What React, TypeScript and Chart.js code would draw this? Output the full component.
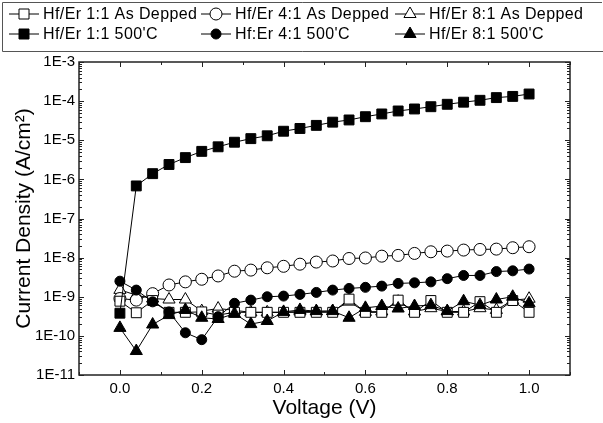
import React, { useEffect, useRef } from "react";
import { Chart, registerables } from "chart.js";

Chart.register(...registerables);

const voltages = [0, 0.04, 0.08, 0.12, 0.16, 0.2, 0.24, 0.28, 0.32, 0.36, 0.4, 0.44, 0.48, 0.52, 0.56, 0.6, 0.64, 0.68, 0.72, 0.76, 0.8, 0.84, 0.88, 0.92, 0.96, 1.0];

const hfEr11AsDepped = [7.7e-10, 3.9e-10, 8e-10, 4e-10, 4e-10, 4.1e-10, 3.4e-10, 4e-10, 4e-10, 4e-10, 4e-10, 4e-10, 4e-10, 4e-10, 8.7e-10, 4e-10, 4e-10, 8.2e-10, 4e-10, 8e-10, 4e-10, 4e-10, 7.5e-10, 4e-10, 8e-10, 4e-10];
const hfEr41AsDepped = [9e-10, 8.2e-10, 1.2e-9, 2.0e-9, 2.4e-9, 2.8e-9, 3.4e-9, 4.5e-9, 4.8e-9, 5.5e-9, 6.0e-9, 6.8e-9, 7.7e-9, 8.2e-9, 9.5e-9, 9.8e-9, 1.09e-8, 1.14e-8, 1.28e-8, 1.41e-8, 1.47e-8, 1.56e-8, 1.62e-8, 1.65e-8, 1.79e-8, 1.9e-8];
const hfEr81AsDepped = [1.5e-9, 1.1e-9, 9e-10, 8.5e-10, 8.5e-10, 4.3e-10, 5e-10, 4.5e-10, 4e-10, 4e-10, 4e-10, 4.2e-10, 4.2e-10, 4.3e-10, 7.5e-10, 4.1e-10, 4.2e-10, 7.5e-10, 4.2e-10, 5.1e-10, 4.2e-10, 4.2e-10, 5.1e-10, 4.6e-10, 8.2e-10, 8.9e-10];
const hfEr11Annealed = [3.8e-10, 6.8e-7, 1.4e-6, 2.4e-6, 3.6e-6, 5.2e-6, 6.8e-6, 8.9e-6, 1.1e-5, 1.3e-5, 1.7e-5, 2.0e-5, 2.4e-5, 2.9e-5, 3.3e-5, 4.0e-5, 4.7e-5, 5.6e-5, 6.3e-5, 7.2e-5, 8.3e-5, 9.4e-5, 1.05e-4, 1.23e-4, 1.32e-4, 1.52e-4];
const hfEr41Annealed = [2.5e-9, 1.48e-9, 7.4e-10, 4.1e-10, 1.2e-10, 8.0e-11, 3.1e-10, 6.8e-10, 8.2e-10, 1.0e-9, 1.04e-9, 1.15e-9, 1.29e-9, 1.48e-9, 1.63e-9, 1.74e-9, 1.87e-9, 2.19e-9, 2.27e-9, 2.4e-9, 2.9e-9, 3.5e-9, 3.5e-9, 4.4e-9, 4.6e-9, 5.1e-9];
const hfEr81Annealed = [1.6e-10, 4.1e-11, 1.95e-10, 3.4e-10, 4.6e-10, 2.9e-10, 2.7e-10, 3.7e-10, 2.0e-10, 2.4e-10, 4.1e-10, 4.6e-10, 4.3e-10, 4.3e-10, 2.9e-10, 5.2e-10, 5.8e-10, 5.0e-10, 5.8e-10, 6.1e-10, 4.3e-10, 7.7e-10, 6.1e-10, 8.5e-10, 1.0e-9, 6.8e-10];

const seriesLabels = [
  "Hf/Er 1:1 As Depped",
  "Hf/Er 4:1 As Depped",
  "Hf/Er 8:1 As Depped",
  "Hf/Er 1:1 500'C",
  "Hf:Er 4:1 500'C",
  "Hf/Er 8:1 500'C",
];

const xTickValues = [0, 0.2, 0.4, 0.6, 0.8, 1.0];
const yTickExponents = [-11, -10, -9, -8, -7, -6, -5, -4, -3];

const xTitle = "Voltage (V)";
const yTitle = "Current Density (A/cm²)";

const FONT = "'Liberation Sans', Arial, sans-serif";

type Shape = "rect" | "circle" | "triangle";

function drawMarker(ctx: CanvasRenderingContext2D, shape: Shape, cx: number, cy: number, filled: boolean) {
  ctx.beginPath();
  if (shape === "rect") {
    const h = 5;
    ctx.rect(cx - h, cy - h, 2 * h, 2 * h);
  } else if (shape === "circle") {
    ctx.arc(cx, cy, filled ? 5 : 6, 0, Math.PI * 2);
  } else {
    const r = 7;
    ctx.moveTo(cx, cy - r);
    ctx.lineTo(cx + r * Math.sin(Math.PI / 3), cy + r / 2);
    ctx.lineTo(cx - r * Math.sin(Math.PI / 3), cy + r / 2);
    ctx.closePath();
  }
  ctx.fillStyle = filled ? "#000" : "#fff";
  ctx.fill();
  ctx.strokeStyle = "#000";
  ctx.lineWidth = 1;
  ctx.stroke();
}

const legendPlugin = {
  id: "customLegend",
  afterDraw(chart: any) {
    const ctx: CanvasRenderingContext2D = chart.ctx;
    ctx.save();
    ctx.strokeStyle = "#555";
    ctx.lineWidth = 1;
    ctx.beginPath();
    ctx.moveTo(2.5, 51.5);
    ctx.lineTo(2.5, 2.5);
    ctx.lineTo(602, 2.5);
    ctx.moveTo(2.5, 51.5);
    ctx.lineTo(603, 51.5);
    ctx.stroke();
    const cols = [9, 201, 395];
    const rows = [14, 34];
    const shapes: Shape[] = ["rect", "circle", "triangle"];
    ctx.font = `16px ${FONT}`;
    (ctx as any).letterSpacing = "0.4px";
    ctx.textBaseline = "middle";
    ctx.textAlign = "left";
    for (let r = 0; r < 2; r++) {
      for (let c = 0; c < 3; c++) {
        const x0 = cols[c];
        const y0 = rows[r];
        ctx.strokeStyle = "#000";
        ctx.lineWidth = 1;
        ctx.beginPath();
        ctx.moveTo(x0, y0);
        ctx.lineTo(x0 + 30, y0);
        ctx.stroke();
        drawMarker(ctx, shapes[c], x0 + 15, y0, r === 1);
        ctx.fillStyle = "#000";
        ctx.fillText(seriesLabels[r * 3 + c], x0 + 34, y0 + 1);
      }
    }
    ctx.restore();
  },
};

const framePlugin = {
  id: "frameTicks",
  afterDraw(chart: any) {
    const ctx: CanvasRenderingContext2D = chart.ctx;
    const { left, right, top, bottom } = chart.chartArea;
    const xs = chart.scales.x;
    const ys = chart.scales.y;
    ctx.save();
    ctx.strokeStyle = "#222";
    ctx.lineWidth = 1.5;
    ctx.strokeRect(left, top, right - left, bottom - top);
    ctx.lineWidth = 1;
    ctx.beginPath();
    for (let i = -1; i <= 11; i++) {
      const px = Math.round(xs.getPixelForValue(i / 10)) + 0.5;
      const len = i % 2 === 0 ? 5 : 3;
      ctx.moveTo(px, bottom);
      ctx.lineTo(px, bottom - len);
      ctx.moveTo(px, top);
      ctx.lineTo(px, top + len);
    }
    for (let e = -11; e <= -3; e++) {
      for (let m = 1; m <= 9; m++) {
        if (e === -3 && m > 1) break;
        const py = Math.round(ys.getPixelForValue(m * Math.pow(10, e))) + 0.5;
        const len = m === 1 ? 5 : 3;
        ctx.moveTo(left, py);
        ctx.lineTo(left + len, py);
        ctx.moveTo(right, py);
        ctx.lineTo(right - len, py);
      }
    }
    ctx.stroke();
    ctx.restore();
  },
};

function makeDataset(label: string, values: number[], shape: Shape, filled: boolean, radius: number) {
  return {
    label,
    data: voltages.map((v, i) => ({ x: v, y: values[i] })),
    borderColor: "#000",
    borderWidth: 1,
    pointStyle: shape,
    pointRadius: radius,
    pointHoverRadius: radius,
    pointBackgroundColor: filled ? "#000" : "#fff",
    pointBorderColor: "#000",
    pointBorderWidth: 1,
    fill: false,
    tension: 0,
  };
}

export default function App() {
  const canvasRef = useRef<HTMLCanvasElement | null>(null);

  useEffect(() => {
    if (!canvasRef.current) return;
    const chart = new Chart(canvasRef.current, {
      type: "line",
      data: {
        datasets: [
          makeDataset(seriesLabels[3], hfEr11Annealed, "rect", true, 7),
          makeDataset(seriesLabels[4], hfEr41Annealed, "circle", true, 5),
          makeDataset(seriesLabels[5], hfEr81Annealed, "triangle", true, 7),
          makeDataset(seriesLabels[0], hfEr11AsDepped, "rect", false, 7),
          makeDataset(seriesLabels[1], hfEr41AsDepped, "circle", false, 6),
          makeDataset(seriesLabels[2], hfEr81AsDepped, "triangle", false, 7),
        ] as any,
      },
      options: {
        animation: false,
        responsive: true,
        maintainAspectRatio: false,
        layout: { padding: { top: 62, right: 33, left: 0, bottom: 0 } },
        plugins: { legend: { display: false }, tooltip: { enabled: false } },
        scales: {
          x: {
            type: "linear",
            min: -0.1,
            max: 1.1,
            grid: { display: false, drawTicks: false },
            border: { display: false },
            afterBuildTicks: (s: any) => {
              s.ticks = xTickValues.map((v) => ({ value: v }));
            },
            afterFit: (s: any) => {
              s.height = 48;
            },
            ticks: {
              color: "#000",
              font: { family: FONT, size: 15 },
              padding: 5,
              maxRotation: 0,
              callback: (v: any) => Number(v).toFixed(1),
            },
            title: {
              display: true,
              text: xTitle,
              color: "#000",
              font: { family: FONT, size: 21 },
              padding: { top: 0, bottom: 2 },
            },
          },
          y: {
            type: "logarithmic",
            min: 1e-11,
            max: 1e-3,
            grid: { display: false, drawTicks: false },
            border: { display: false },
            afterBuildTicks: (s: any) => {
              s.ticks = yTickExponents.map((e) => ({ value: Math.pow(10, e) }));
            },
            afterFit: (s: any) => {
              s.width = 79;
            },
            ticks: {
              color: "#000",
              font: { family: FONT, size: 15 },
              padding: 4,
              callback: (v: any) => "1E" + Math.round(Math.log10(Number(v))),
            },
            title: {
              display: true,
              text: yTitle,
              color: "#000",
              font: { family: FONT, size: 21 },
              padding: { top: 12, bottom: 0 },
            },
          },
        },
      } as any,
      plugins: [framePlugin, legendPlugin],
    });
    return () => chart.destroy();
  }, []);

  return (
    <div style={{ position: "absolute", left: 0, top: 0, width: 603, height: 423, background: "#fff" }}>
      <canvas ref={canvasRef} />
    </div>
  );
}
